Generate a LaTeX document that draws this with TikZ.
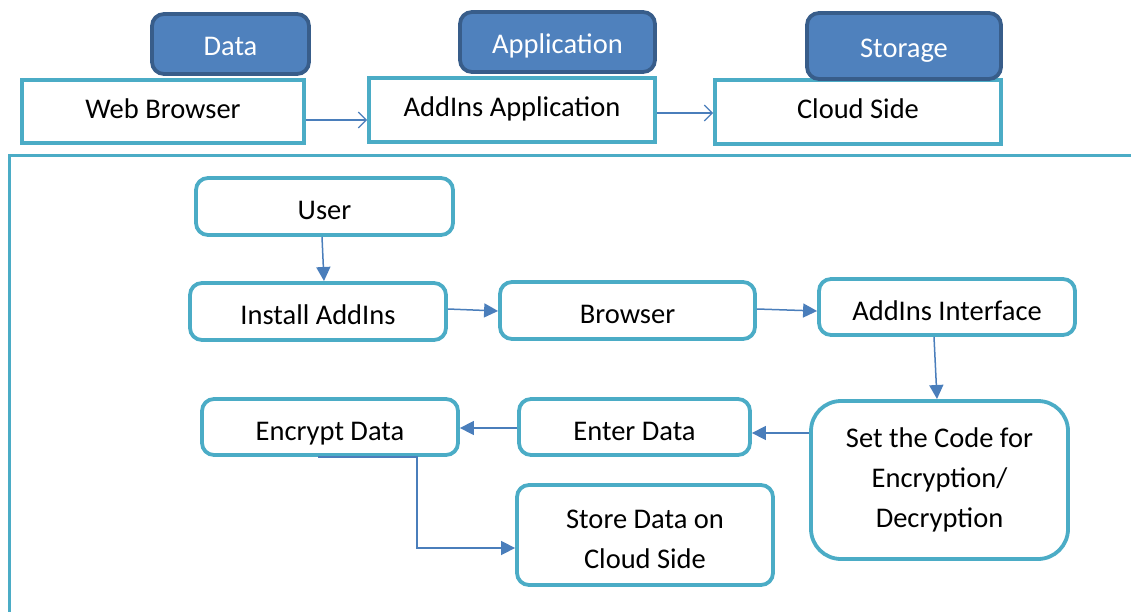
\documentclass[tikz,border=0pt]{standalone}
\usepackage{fontspec}
\setmainfont{Carlito}
\usetikzlibrary{arrows.meta}
\definecolor{aqua}{HTML}{4BACC6}
\definecolor{tagfill}{HTML}{4F81BD}
\definecolor{tagline}{HTML}{385D8A}
\definecolor{arrowc}{HTML}{4A7EBB}
\begin{document}
\begin{tikzpicture}[x=1pt,y=-1pt,
  every node/.style={font=\fontsize{28.5}{40}\selectfont, inner sep=0pt, align=center},
  topbox/.style={draw=aqua, line width=3.8pt, fill=white, rectangle, text height=14pt, text depth=0pt},
  tagbox/.style={draw=tagline, line width=3.8pt, fill=tagfill, rounded corners=12pt, text=white, text height=24pt, text depth=0pt},
  flowbox/.style={draw=aqua, line width=3.8pt, fill=white, rounded corners=12pt},
  oneline/.style={text height=26pt, text depth=0pt},
  openarrow/.style={draw=arrowc, line width=1.2pt, -{Straight Barb[length=8pt,width=16pt,line width=1.2pt]}},
  flowarrow/.style={draw=arrowc, line width=1.5pt, -{Triangle[length=14pt,width=14pt]}}
]
\useasboundingbox (0,0) rectangle (1131,612);
% outer frame
\draw[aqua, line width=3.8pt] (9.5,620) -- (9.5,155.5) -- (1140,155.5);

% top row
\node[topbox, minimum width=282pt, minimum height=63pt] (wb) at (163,111.5) {Web Browser};
\node[topbox, minimum width=286pt, minimum height=64pt] (aa) at (512,110) {AddIns Application};
\node[topbox, minimum width=286pt, minimum height=64pt] (cs) at (858,112) {Cloud Side};
\node[tagbox, minimum width=157pt, minimum height=60pt] (tdata) at (230.5,44) {Data};
\node[tagbox, minimum width=195pt, minimum height=60pt] (tapp) at (557.5,42) {Application};
\node[tagbox, minimum width=194pt, minimum height=66pt] (tsto) at (904,46) {Storage};

\draw[openarrow] (wb.east |- 0,120) -- (aa.west |- 0,120);
\draw[openarrow] (aa.east |- 0,113) -- (cs.west |- 0,113);

% flow
\node[flowbox, oneline, minimum width=257pt, minimum height=57pt] (user) at (324.5,206.5) {User};
\node[flowbox, oneline, minimum width=256pt, minimum height=57pt] (inst) at (318,311.5) {Install AddIns};
\node[flowbox, oneline, minimum width=255pt, minimum height=57pt] (brow) at (627.5,310.5) {Browser};
\node[flowbox, oneline, minimum width=256pt, minimum height=56pt] (ifc) at (947,307) {AddIns Interface};
\node[flowbox, rounded corners=30pt, minimum width=257pt, minimum height=158pt] (code) at (939.5,480) {Set the Code for\\Encryption/\\Decryption};
\node[flowbox, oneline, minimum width=231pt, minimum height=56pt] (enter) at (634.5,427) {Enter Data};
\node[flowbox, oneline, minimum width=256pt, minimum height=56pt] (enc) at (330,427) {Encrypt Data};
\node[flowbox, minimum width=256pt, minimum height=100pt] (store) at (645,535) {};
\node (storet) at (645,539) {Store Data on\\Cloud Side};

\draw[flowarrow] (322,237) -- (324,281);
\draw[flowarrow] (inst.east |- 0,309) -- (brow.west |- 0,311);
\draw[flowarrow] (brow.east |- 0,309) -- (ifc.west |- 0,311);
\draw[flowarrow] (934,337) -- (937,399);
\draw[flowarrow] (code.west |- 0,433) -- (enter.east |- 0,433);
\draw[flowarrow] (enter.west |- 0,428) -- (enc.east |- 0,428);
\coordinate (encout) at (318,457);
\draw[flowarrow] (encout) -- (417,457) -- (417,548) -- (store.west |- 0,548);
\end{tikzpicture}
\end{document}
